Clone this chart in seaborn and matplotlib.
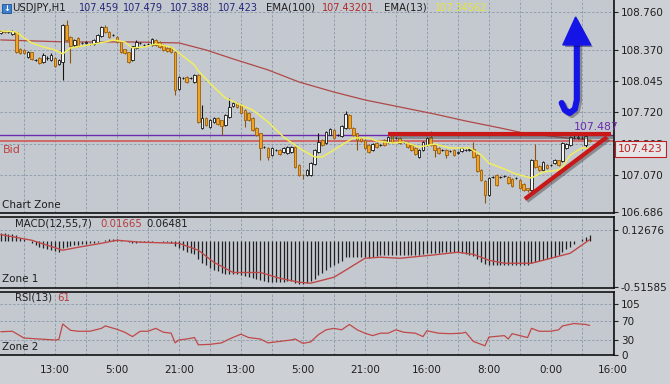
import matplotlib
matplotlib.use("Agg")
import matplotlib.pyplot as plt
import matplotlib.patheffects as pe
from matplotlib.patches import Polygon, Rectangle
import seaborn as sns
import numpy as np

# ---- price data (USDJPY H1), one entry per bar ----
opens = [108.542, 108.563, 108.553, 108.532, 108.553, 108.376, 108.366, 108.293, 108.345, 108.262,
         108.283, 108.242, 108.283, 108.262, 108.283, 108.221, 108.242, 108.625, 108.501, 108.418,
         108.490, 108.439, 108.439, 108.428, 108.428, 108.449, 108.511, 108.604, 108.553, 108.522,
         108.501, 108.449, 108.376, 108.345, 108.262, 108.387, 108.439, 108.418, 108.428, 108.418,
         108.470, 108.449, 108.418, 108.387, 108.397, 108.345, 107.962, 108.076, 108.086, 108.076,
         108.034, 108.107, 107.557, 107.661, 107.568, 107.619, 107.661, 107.640, 107.588, 107.671,
         107.785, 107.816, 107.796, 107.744, 107.713, 107.661, 107.557, 107.505, 107.360, 107.350,
         107.277, 107.329, 107.329, 107.308, 107.298, 107.308, 107.360, 107.174, 107.075, 107.070,
         107.070, 107.184, 107.308, 107.433, 107.402, 107.485, 107.537, 107.485, 107.474, 107.557,
         107.692, 107.557, 107.505, 107.454, 107.433, 107.381, 107.329, 107.402, 107.381, 107.433,
         107.412, 107.485, 107.454, 107.454, 107.412, 107.402, 107.381, 107.350, 107.257, 107.329,
         107.381, 107.464, 107.381, 107.350, 107.329, 107.329, 107.319, 107.329, 107.298, 107.319,
         107.329, 107.329, 107.340, 107.277, 107.122, 107.008, 106.863, 107.049, 107.070, 107.049,
         107.060, 107.049, 107.029, 107.039, 107.018, 106.977, 106.935, 106.914, 107.226, 107.163,
         107.122, 107.174, 107.174, 107.194, 107.226, 107.215, 107.350, 107.381, 107.454, 107.454,
         107.454, 107.381, 107.433]
highs = [108.575, 108.570, 108.565, 108.575, 108.565, 108.390, 108.375, 108.355, 108.350, 108.275,
         108.290, 108.335, 108.300, 108.330, 108.290, 108.275, 108.640, 108.677, 108.510, 108.480,
         108.500, 108.450, 108.455, 108.440, 108.480, 108.530, 108.615, 108.620, 108.560, 108.530,
         108.510, 108.455, 108.380, 108.350, 108.410, 108.470, 108.450, 108.430, 108.440, 108.490,
         108.480, 108.460, 108.425, 108.395, 108.405, 108.355, 108.100, 108.090, 108.095, 108.090,
         108.120, 108.115, 107.796, 107.670, 107.650, 107.675, 107.670, 107.645, 107.700, 107.868,
         107.825, 107.825, 107.805, 107.750, 107.720, 107.670, 107.565, 107.510, 107.370, 107.360,
         107.360, 107.340, 107.335, 107.360, 107.370, 107.370, 107.370, 107.180, 107.080, 107.130,
         107.200, 107.335, 107.505, 107.440, 107.525, 107.555, 107.545, 107.495, 107.585, 107.734,
         107.700, 107.565, 107.510, 107.460, 107.440, 107.390, 107.400, 107.410, 107.390, 107.440,
         107.475, 107.495, 107.465, 107.460, 107.420, 107.410, 107.390, 107.360, 107.340, 107.420,
         107.465, 107.526, 107.390, 107.360, 107.340, 107.335, 107.330, 107.335, 107.315, 107.360,
         107.340, 107.345, 107.412, 107.285, 107.130, 107.015, 107.050, 107.060, 107.080, 107.060,
         107.070, 107.060, 107.040, 107.050, 107.025, 106.985, 106.940, 107.235, 107.391, 107.170,
         107.215, 107.180, 107.185, 107.235, 107.230, 107.410, 107.400, 107.475, 107.487, 107.487,
         107.470, 107.487, 107.440]
lows = [108.530, 108.540, 108.540, 108.520, 108.330, 108.320, 108.320, 108.280, 108.260, 108.250,
        108.220, 108.230, 108.260, 108.250, 108.190, 108.210, 108.055, 108.460, 108.231, 108.400,
        108.400, 108.430, 108.430, 108.420, 108.420, 108.440, 108.500, 108.545, 108.490, 108.510,
        108.440, 108.330, 108.320, 108.230, 108.250, 108.380, 108.430, 108.410, 108.420, 108.410,
        108.410, 108.390, 108.355, 108.345, 108.335, 107.899, 107.950, 108.065, 108.025, 108.060,
        108.025, 107.610, 107.545, 107.575, 107.555, 107.610, 107.590, 107.485, 107.580, 107.660,
        107.775, 107.765, 107.700, 107.568, 107.630, 107.525, 107.475, 107.226, 107.350, 107.226,
        107.270, 107.320, 107.280, 107.300, 107.290, 107.300, 107.140, 107.060, 107.029, 107.060,
        107.060, 107.175, 107.300, 107.370, 107.390, 107.480, 107.445, 107.475, 107.465, 107.550,
        107.545, 107.475, 107.329, 107.410, 107.340, 107.300, 107.320, 107.350, 107.370, 107.370,
        107.400, 107.400, 107.445, 107.390, 107.400, 107.350, 107.320, 107.280, 107.245, 107.320,
        107.370, 107.370, 107.257, 107.290, 107.320, 107.246, 107.310, 107.270, 107.290, 107.310,
        107.320, 107.320, 107.250, 107.100, 107.010, 106.780, 106.850, 107.040, 106.955, 107.040,
        107.050, 106.975, 106.945, 107.030, 106.925, 106.900, 106.890, 106.905, 107.145, 107.110,
        107.115, 107.135, 107.165, 107.185, 107.165, 107.205, 107.340, 107.370, 107.445, 107.445,
        107.445, 107.360, 107.410]
closes = [108.563, 108.553, 108.553, 108.563, 108.345, 108.335, 108.335, 108.345, 108.273, 108.262,
          108.231, 108.314, 108.283, 108.314, 108.200, 108.262, 108.625, 108.470, 108.407, 108.470,
          108.407, 108.439, 108.449, 108.428, 108.470, 108.522, 108.604, 108.553, 108.501, 108.522,
          108.449, 108.345, 108.335, 108.242, 108.407, 108.449, 108.439, 108.418, 108.428, 108.480,
          108.418, 108.397, 108.366, 108.356, 108.345, 107.951, 108.086, 108.076, 108.034, 108.076,
          108.107, 107.619, 107.661, 107.588, 107.640, 107.661, 107.599, 107.578, 107.692, 107.775,
          107.816, 107.775, 107.713, 107.640, 107.640, 107.537, 107.485, 107.350, 107.360, 107.257,
          107.350, 107.329, 107.288, 107.350, 107.360, 107.360, 107.153, 107.070, 107.065, 107.122,
          107.194, 107.329, 107.412, 107.381, 107.516, 107.547, 107.454, 107.485, 107.578, 107.702,
          107.557, 107.485, 107.433, 107.423, 107.350, 107.308, 107.391, 107.360, 107.381, 107.381,
          107.464, 107.412, 107.454, 107.402, 107.412, 107.360, 107.329, 107.288, 107.329, 107.412,
          107.454, 107.381, 107.329, 107.298, 107.329, 107.277, 107.319, 107.277, 107.308, 107.350,
          107.329, 107.335, 107.257, 107.111, 107.018, 106.863, 107.039, 107.049, 106.966, 107.049,
          107.060, 106.987, 106.956, 107.039, 106.935, 106.914, 106.914, 107.226, 107.153, 107.122,
          107.205, 107.143, 107.174, 107.226, 107.174, 107.402, 107.391, 107.464, 107.454, 107.460,
          107.454, 107.474, 107.423]

# moving averages (bar index, price)
ema13_bar = [0, 4, 5, 8, 11, 14, 16, 18, 21, 24, 27, 29, 32, 34, 37, 40, 44, 46, 50, 51, 55, 58, 62, 65,
             69, 73, 77, 81, 83, 86, 88, 91, 95, 97, 101, 104, 108, 112, 116, 121, 124, 126, 130, 133,
             137, 140, 144, 145, 147, 150, 152]
ema13_val = [108.563, 108.553, 108.522, 108.439, 108.397, 108.366, 108.325, 108.387, 108.407, 108.428,
             108.449, 108.470, 108.449, 108.387, 108.397, 108.428, 108.397, 108.335, 108.210, 108.148,
             107.982, 107.868, 107.796, 107.744, 107.619, 107.464, 107.350, 107.257, 107.257, 107.329,
             107.381, 107.454, 107.454, 107.423, 107.402, 107.412, 107.360, 107.391, 107.350, 107.350,
             107.277, 107.194, 107.132, 107.080, 107.039, 107.101, 107.122, 107.153, 107.277, 107.350,
             107.346]
ema100_bar = [0, 17, 34, 46, 53, 60, 69, 77, 86, 94, 103, 112, 120, 129, 135, 146, 152]
ema100_val = [108.470, 108.449, 108.449, 108.439, 108.366, 108.273, 108.159, 108.034, 107.930, 107.848,
              107.775, 107.702, 107.630, 107.557, 107.505, 107.454, 107.432]

# MACD(12,55,7): main value per bar (black lines) and signal line (red)
macd_main = [0.09, 0.09, 0.08, 0.08, 0.07, 0.04, 0.02, 0.00, -0.02, -0.04,
             -0.06, -0.08, -0.09, -0.10, -0.11, -0.12, -0.08, -0.06, -0.05, -0.04,
             -0.04, -0.03, -0.03, -0.02, -0.02, -0.01, 0.00, 0.01, 0.02, 0.02,
             0.02, 0.01, 0.00, -0.01, -0.02, -0.02, -0.01, -0.01, -0.01, -0.01,
             0.00, 0.00, -0.01, -0.01, -0.02, -0.05, -0.08, -0.10, -0.12, -0.13,
             -0.14, -0.20, -0.24, -0.27, -0.30, -0.32, -0.34, -0.36, -0.37, -0.37,
             -0.37, -0.37, -0.38, -0.39, -0.40, -0.41, -0.42, -0.44, -0.45, -0.46,
             -0.46, -0.46, -0.46, -0.46, -0.45, -0.45, -0.47, -0.48, -0.48, -0.47,
             -0.45, -0.42, -0.38, -0.36, -0.32, -0.29, -0.27, -0.25, -0.22, -0.18,
             -0.18, -0.18, -0.18, -0.18, -0.18, -0.19, -0.18, -0.17, -0.15, -0.15,
             -0.15, -0.15, -0.15, -0.15, -0.15, -0.15, -0.15, -0.15, -0.15, -0.14,
             -0.13, -0.13, -0.13, -0.13, -0.12, -0.12, -0.12, -0.12, -0.12, -0.13,
             -0.14, -0.15, -0.17, -0.20, -0.23, -0.26, -0.27, -0.27, -0.27, -0.27,
             -0.27, -0.27, -0.27, -0.27, -0.27, -0.27, -0.27, -0.25, -0.23, -0.22,
             -0.21, -0.20, -0.19, -0.18, -0.16, -0.12, -0.09, -0.06, -0.03, 0.00,
             0.03, 0.05, 0.065]
signal_bar = [0, 8, 16, 20, 26, 30, 36, 46, 51, 55, 60, 67, 72, 77, 80, 86, 89, 94, 98, 103, 111, 118,
              122, 126, 130, 137, 142, 147, 152]
signal_val = [0.075, 0.011, -0.101, -0.068, -0.023, 0.011, -0.011, -0.023, -0.101, -0.237, -0.352,
              -0.352, -0.417, -0.462, -0.473, -0.406, -0.327, -0.192, -0.180, -0.192, -0.158, -0.124,
              -0.147, -0.214, -0.248, -0.248, -0.192, -0.135, 0.017]

# RSI(13)
rsi_bar = [0, 3, 6, 10, 14, 15, 16, 18, 20, 23, 26, 27, 30, 32, 34, 36, 38, 40, 42, 43, 44, 45, 46, 48,
           50, 51, 54, 57, 59, 62, 64, 67, 69, 72, 75, 76, 78, 80, 82, 84, 86, 88, 90, 92, 94, 96, 98,
           100, 102, 104, 107, 109, 110, 113, 116, 119, 120, 122, 125, 126, 130, 131, 132, 135, 136,
           137, 139, 142, 144, 145, 148, 151, 152]
rsi_val = [48, 49, 35, 33, 31, 32, 64, 51, 49, 49, 55, 60, 53, 47, 38, 49, 49, 55, 47, 46, 45, 25, 31, 33,
           36, 21, 22, 25, 33, 43, 36, 33, 25, 28, 31, 33, 24, 27, 42, 52, 55, 52, 63, 52, 45, 40, 45,
           45, 52, 47, 45, 38, 50, 45, 44, 45, 47, 28, 19, 37, 40, 33, 44, 38, 36, 55, 49, 49, 52, 60,
           65, 63, 61]

time_ticks = [14, 30, 46, 62, 78, 94, 110, 126, 142, 158]
time_labels = ["13:00", "5:00", "21:00", "13:00", "5:00", "21:00", "16:00", "8:00", "0:00", "16:00"]
price_ticks = [108.760, 108.370, 108.045, 107.720, 107.395, 107.070, 106.686]
macd_ticks = [0.12676, -0.51585]
rsi_ticks = [0, 30, 70, 105]

# hand-drawn annotations (bar index, price)
resist_x, resist_y = [100, 157.5], [107.490, 107.490]
support_x, support_y = [135.3, 156.5], [106.821, 107.464]
arrow_x = [148.7, 148.7, 148.2, 146.9, 145.6, 144.8]
arrow_y = [108.428, 107.848, 107.754, 107.713, 107.744, 107.816]
head_x, head_y = [148.4, 145.1, 152.3], [108.708, 108.418, 108.418]

sns.set_theme(style="white")
plt.rcParams['font.family'] = ['DejaVu Sans']

W, H = 670, 384
fig = plt.figure(figsize=(W / 100, H / 100), dpi=100)
fig.patch.set_facecolor('#CDD1D6')

PANEL = '#C4C9D0'
GRID = '#8C98A8'
TXT = '#1E1E1E'


def px_axes(x0, y0, x1, y1):
    return fig.add_axes([x0 / W, 1 - y1 / H, (x1 - x0) / W, (y1 - y0) / H])


def ftext(x, y, s, **kw):
    kw.setdefault('fontsize', 7.5)
    kw.setdefault('color', TXT)
    kw.setdefault('va', 'center')
    return fig.text(x / W, 1 - y / H, s, **kw)


ax = px_axes(0, 0, 614, 213)
ax_m = px_axes(0, 217, 614, 288)
ax_r = px_axes(0, 292, 614, 355)

xmin, xmax = -0.19, 158.3
grid_x = np.arange(6, 159, 8)
for a in (ax, ax_m, ax_r):
    a.set_facecolor(PANEL)
    a.set_xlim(xmin, xmax)
    for s in ('top', 'bottom', 'right'):
        a.spines[s].set_visible(True)
        a.spines[s].set_color('#111111')
        a.spines[s].set_linewidth(1.2)
    a.spines['left'].set_visible(False)
    a.yaxis.tick_right()
    a.tick_params(axis='y', direction='out', length=3, width=0.8, colors='#222222',
                  labelsize=7.5, pad=2, labelcolor=TXT)
    a.set_xticks([])
    for gx in grid_x:
        a.axvline(gx, color=GRID, lw=0.6, ls=(0, (3, 2)), zorder=0)
ax.spines['top'].set_visible(False)

# ---- main price panel ----
ax.set_ylim(106.676, 108.884)
ax.set_yticks(price_ticks)
ax.set_yticklabels([f"{v:.3f}" for v in price_ticks])
for gy in price_ticks:
    ax.axhline(gy, color=GRID, lw=0.6, ls=(0, (3, 2)), zorder=0)

bars = np.arange(len(closes))
o, h, l, c = map(np.array, (opens, highs, lows, closes))
up = c >= o
body = np.maximum(np.abs(c - o), 0.004)
bottom = np.minimum(o, c)
ax.vlines(bars[up], l[up], h[up], color='#151515', lw=0.8, zorder=3)
ax.vlines(bars[~up], l[~up], h[~up], color='#8A5512', lw=0.8, zorder=3)
ax.bar(bars[up], body[up], bottom=bottom[up], width=0.66, color='#F4F4F4',
       edgecolor='#151515', linewidth=0.6, zorder=4)
ax.bar(bars[~up], body[~up], bottom=bottom[~up], width=0.66, color='#F2A324',
       edgecolor='#9A6010', linewidth=0.6, zorder=4)

sns.lineplot(x=ema100_bar, y=ema100_val, ax=ax, color='#B04848', lw=0.9, zorder=2)
sns.lineplot(x=ema13_bar, y=ema13_val, ax=ax, color='#F0EE5C', lw=1.1, zorder=5)

ax.axhline(107.487, color='#6B2BB0', lw=1.0, zorder=2)
ax.axhline(107.423, color='#D06060', lw=1.3, zorder=2)

shadow = [pe.SimpleLineShadow(offset=(1.5, -1.5), shadow_color='#404040', alpha=0.45), pe.Normal()]
ax.plot(resist_x, resist_y, color='#C81818', lw=3.0, solid_capstyle='butt', zorder=6,
        path_effects=shadow)
ax.plot(support_x, support_y, color='#C81818', lw=3.0, solid_capstyle='butt', zorder=6,
        path_effects=shadow)
ax.plot(arrow_x, arrow_y, color='#1414E6', lw=4.4, solid_capstyle='round', zorder=7,
        path_effects=shadow)
ax.add_patch(Polygon(list(zip(head_x, head_y)), closed=True, color='#1414E6', zorder=7,
                     path_effects=[pe.SimplePatchShadow(offset=(1.5, -1.5), alpha=0.4), pe.Normal()]))

# ---- MACD panel ----
ax_m.set_ylim(-0.527, 0.273)
ax_m.set_yticks(macd_ticks)
ax_m.set_yticklabels(["0.12676", "-0.51585"])
ax_m.axhline(0.12676, color=GRID, lw=0.6, ls=(0, (3, 2)), zorder=0)
ax_m.vlines(bars, 0, macd_main, color='#202020', lw=0.9, zorder=3)
sns.lineplot(x=signal_bar, y=signal_val, ax=ax_m, color='#C04848', lw=1.0, zorder=4)

# ---- RSI panel ----
ax_r.set_ylim(0, 130)
ax_r.set_yticks(rsi_ticks)
for gy in (30, 70, 105):
    ax_r.axhline(gy, color=GRID, lw=0.6, ls=(0, (3, 2)), zorder=0)
sns.lineplot(x=rsi_bar, y=rsi_val, ax=ax_r, color='#C04848', lw=0.9, zorder=3)
ax_r.set_xticks(time_ticks)
ax_r.set_xticklabels(time_labels)
ax_r.tick_params(axis='x', length=0, labelsize=7.5, labelcolor=TXT, pad=7)

for a in (ax, ax_m, ax_r):
    a.set_xlabel('')
    a.set_ylabel('')

# ---- texts ----
fig.patches.append(Rectangle((2 / W, 1 - 13 / H), 9 / W, 9 / H, transform=fig.transFigure,
                             facecolor='#3A7FD0', edgecolor='#1F4F90', lw=0.6))
ftext(6.5, 8.5, "↓", color='white', fontsize=6, ha='center', fontweight='bold')
ftext(12, 8, "USDJPY,H1", fontsize=7.3)
for xpos, s in zip([79, 123, 170, 218], ["107.459", "107.479", "107.388", "107.423"]):
    ftext(xpos, 8, s, color='#26267A', fontsize=7)
ftext(266, 8, "EMA(100)", fontsize=7.3)
ftext(322, 8, "107.43201", color='#B02828', fontsize=7)
ftext(384, 8, "EMA(13)", fontsize=7.3)
ftext(435, 8, "107.34562", color='#E4E43C', fontsize=7)

ftext(3, 150, "Bid", color='#C04040', fontsize=8)
ftext(2, 205, "Chart Zone", fontsize=7.5)
ftext(2, 279, "Zone 1", fontsize=7.5)
ftext(2, 347, "Zone 2", fontsize=7.5)
ftext(15, 224, "MACD(12,55,7)", fontsize=7.3)
ftext(100, 224, "0.01665", color='#B83A3A', fontsize=7.3)
ftext(146, 224, "0.06481", fontsize=7.3)
ftext(15, 298, "RSI(13)", fontsize=7.3)
ftext(57, 298, "61", color='#B83A3A', fontsize=7.3)

ftext(574, 127, "107.487", color='#6B2BB0', fontsize=7.8)
ftext(618, 149, "107.423", color='#C02020', fontsize=7.8, zorder=10,
      bbox=dict(boxstyle='square,pad=0.3', facecolor='#E6E6E8', edgecolor='#C02020', lw=0.8))

fig.savefig("out.png", dpi=100, facecolor=fig.get_facecolor())
